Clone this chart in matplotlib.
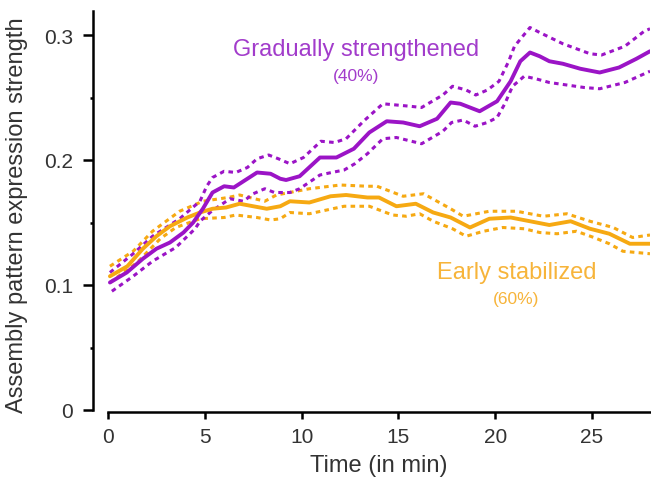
import matplotlib
matplotlib.use("Agg")
import matplotlib.pyplot as plt
from matplotlib.ticker import MultipleLocator

plt.rcParams['font.family'] = ['Liberation Sans', 'DejaVu Sans']

PURPLE = '#9b14c6'
ORANGE = '#f6a912'
PURPLE_TXT = '#a23ccb'
ORANGE_TXT = '#f7b43a'

# gradually strengthened assemblies: mean and confidence bounds
t_grad = [0.1, 0.97, 1.8, 2.5, 3.2, 3.9, 4.4, 4.9, 5.4, 6.0, 6.5, 7.0, 7.7,
          8.4, 8.9, 9.2, 9.9, 10.95, 11.8, 12.7, 13.5, 14.4, 15.25, 16.1,
          17.0, 17.7, 18.2, 19.2, 20.1, 20.8, 21.3, 21.8, 22.3, 22.8, 23.5,
          24.4, 25.4, 26.4, 27.3, 28.0]
grad_mean = [0.102, 0.110, 0.121, 0.129, 0.134, 0.142, 0.150, 0.161, 0.174,
             0.179, 0.178, 0.183, 0.190, 0.189, 0.185, 0.184, 0.187, 0.202,
             0.202, 0.209, 0.222, 0.231, 0.230, 0.227, 0.233, 0.246, 0.245,
             0.239, 0.247, 0.263, 0.279, 0.286, 0.283, 0.279, 0.277, 0.273,
             0.270, 0.274, 0.281, 0.287]
t_grad_hi = [0.1, 1.3, 2.3, 3.7, 4.75, 5.1, 5.4, 6.0, 6.6, 7.2, 7.7, 8.3,
             8.8, 9.4, 10.1, 11.0, 11.7, 12.3, 13.2, 14.2, 15.6, 16.2, 17.3,
             17.8, 18.5, 19.0, 19.6, 20.2, 20.7, 21.0, 21.8, 22.3, 23.5, 24.9,
             25.5, 26.7, 27.7, 28.0]
grad_hi = [0.110, 0.125, 0.139, 0.153, 0.167, 0.179, 0.186, 0.191, 0.190,
           0.194, 0.201, 0.204, 0.201, 0.197, 0.202, 0.215, 0.214, 0.217,
           0.231, 0.245, 0.243, 0.242, 0.252, 0.259, 0.256, 0.252, 0.256,
           0.263, 0.279, 0.291, 0.306, 0.302, 0.293, 0.285, 0.284, 0.291,
           0.303, 0.305]
t_grad_lo = [0.2, 1.3, 2.3, 3.5, 4.5, 4.75, 5.35, 6.3, 7.0, 7.5, 8.1, 8.6,
             9.4, 9.9, 10.95, 11.55, 12.2, 12.75, 13.4, 14.2, 14.9, 16.2,
             17.3, 17.75, 18.35, 18.96, 19.6, 20.1, 20.5, 20.9, 21.5, 22.1,
             22.8, 24.6, 25.4, 26.7, 28.0]
grad_lo = [0.095, 0.107, 0.119, 0.130, 0.145, 0.151, 0.159, 0.169, 0.167,
           0.173, 0.177, 0.174, 0.174, 0.177, 0.188, 0.190, 0.192, 0.197,
           0.205, 0.217, 0.218, 0.213, 0.223, 0.230, 0.232, 0.227, 0.230,
           0.234, 0.245, 0.259, 0.267, 0.265, 0.262, 0.258, 0.257, 0.262,
           0.271]

# early stabilized assemblies: mean and confidence bounds
t_early = [0.1, 1.0, 1.8, 2.5, 3.2, 4.1, 4.75, 5.4, 6.1, 6.8, 7.5, 8.2, 8.9,
           9.4, 10.4, 11.5, 12.3, 13.4, 14.0, 14.9, 15.9, 16.8, 17.7, 18.7,
           19.7, 20.8, 21.8, 22.8, 23.9, 24.9, 25.9, 26.96, 28.0]
early_mean = [0.107, 0.115, 0.129, 0.139, 0.147, 0.154, 0.158, 0.161, 0.162,
              0.165, 0.163, 0.161, 0.163, 0.167, 0.166, 0.171, 0.172, 0.170,
              0.170, 0.163, 0.165, 0.158, 0.154, 0.146, 0.153, 0.154, 0.151,
              0.148, 0.151, 0.145, 0.141, 0.133, 0.133]
t_early_hi = [0.1, 1.3, 2.3, 3.7, 4.9, 6.2, 6.8, 8.1, 8.7, 10.4, 12.0, 13.4,
              13.9, 15.25, 16.3, 17.7, 18.35, 19.7, 21.1, 22.5, 23.7, 24.9,
              26.1, 27.1, 28.0]
early_hi = [0.115, 0.127, 0.143, 0.159, 0.167, 0.170, 0.172, 0.167, 0.172,
            0.177, 0.180, 0.179, 0.179, 0.171, 0.173, 0.161, 0.155, 0.159,
            0.159, 0.155, 0.157, 0.151, 0.146, 0.138, 0.140]
t_early_lo = [0.1, 1.5, 2.7, 3.5, 4.75, 6.0, 6.6, 7.7, 8.4, 8.9, 9.4, 10.4,
              12.2, 13.5, 14.7, 15.4, 16.1, 16.8, 17.8, 18.5, 19.4, 20.4,
              21.5, 22.3, 23.2, 24.2, 25.1, 25.9, 26.6, 28.0]
early_lo = [0.102, 0.118, 0.137, 0.146, 0.153, 0.154, 0.156, 0.154, 0.152,
            0.153, 0.158, 0.157, 0.163, 0.163, 0.156, 0.155, 0.157, 0.151,
            0.145, 0.139, 0.143, 0.146, 0.145, 0.142, 0.141, 0.143, 0.138,
            0.133, 0.127, 0.125]

fig = plt.figure(figsize=(6.51, 4.85), dpi=100)
ax = fig.add_axes([108 / 651, 74 / 485, 542 / 651, 399 / 485])

dot = (0, (1.5, 1.4))
band_kw = dict(lw=2.2, ls=dot, dash_capstyle='butt')
ax.plot(t_early_hi, early_hi, color=ORANGE, **band_kw)
ax.plot(t_early_lo, early_lo, color=ORANGE, **band_kw)
ax.plot(t_grad_hi, grad_hi, color=PURPLE, **band_kw)
ax.plot(t_grad_lo, grad_lo, color=PURPLE, **band_kw)
ax.plot(t_early, early_mean, color=ORANGE, lw=2.8,
        solid_capstyle='round', solid_joinstyle='round')
ax.plot(t_grad, grad_mean, color=PURPLE, lw=2.8,
        solid_capstyle='round', solid_joinstyle='round')

ax.text(12.8, 0.289, 'Gradually strengthened', color=PURPLE_TXT,
        fontsize=17, ha='center', va='center')
ax.text(12.8, 0.268, '(40%)', color=PURPLE_TXT, fontsize=12.5,
        ha='center', va='center')
ax.text(21.1, 0.110, 'Early stabilized', color=ORANGE_TXT,
        fontsize=17, ha='center', va='center')
ax.text(21.1, 0.089, '(60%)', color=ORANGE_TXT, fontsize=12.5,
        ha='center', va='center')

ax.set_xlim(0, 28)
ax.set_ylim(0, 0.3192)
ax.set_xticks([0, 5, 10, 15, 20, 25])
ax.set_yticks([0, 0.1, 0.2, 0.3])
ax.set_yticklabels(['0', '0.1', '0.2', '0.3'])
ax.yaxis.set_minor_locator(MultipleLocator(0.05))

for side in ('top', 'right'):
    ax.spines[side].set_visible(False)
ax.spines['left'].set_position(('outward', 11))
ax.spines['bottom'].set_position(('outward', 1.5))
for side in ('left', 'bottom'):
    ax.spines[side].set_linewidth(1.8)

ax.tick_params(axis='both', which='major', labelsize=15, width=1.8,
               color='black', labelcolor='#333333')
ax.tick_params(axis='y', which='major', length=7, pad=7)
ax.tick_params(axis='x', which='major', length=5, pad=6)
ax.tick_params(axis='y', which='minor', length=2.5, width=1.8)

ax.set_xlabel('Time (in min)', fontsize=17, color='#333333')
ax.set_ylabel('Assembly pattern expression strength', fontsize=17,
              color='#333333')
ax.yaxis.set_label_coords(-0.148, 0.491)
ax.xaxis.set_label_coords(0.5, -0.110)

fig.savefig('out.png', dpi=100)
